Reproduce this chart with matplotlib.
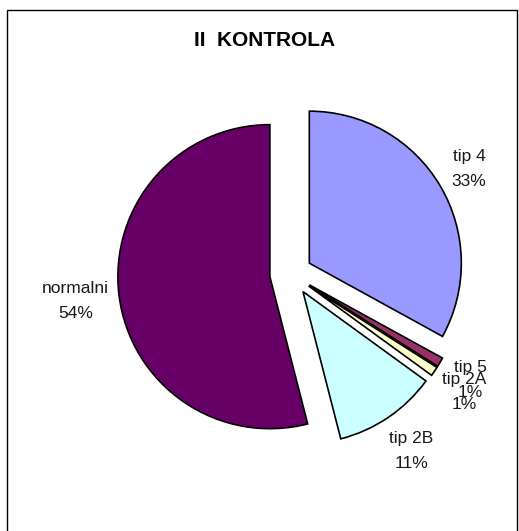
import numpy as np
import matplotlib.pyplot as plt
from matplotlib.patches import Rectangle

plt.rcParams['font.family'] = ['Liberation Sans', 'DejaVu Sans']

# data
categories = ['tip 4', 'tip 5', 'tip 2A', 'tip 2B', 'normalni']
values = [33, 1, 1, 11, 54]
colors = ['#9999FF', '#993366', '#FFFFCC', '#CCFFFF', '#660066']
label_dist = [1.22, 1.23, 1.24, 1.27, 1.29]

W, H = 519, 531
fig = plt.figure(figsize=(W / 100, H / 100), dpi=100)

# pie centre (px from left / top) and radius in px
cx, cy, R, S = 291, 274, 152, 240
ax = fig.add_axes([(cx - S) / W, (H - cy - S) / H, 2 * S / W, 2 * S / H])

explode = [0.14] * len(values)
labels = ['{}\n{}%'.format(c, v) for c, v in zip(categories, values)]
wedges, texts = ax.pie(values, labels=labels, colors=colors,
                       explode=explode, startangle=90,
                       counterclock=False, labeldistance=1.24,
                       wedgeprops=dict(edgecolor='black', linewidth=1.2),
                       textprops=dict(fontsize=12.5, color='#1a1a1a'))
for w, t, d, e in zip(wedges, texts, label_dist, explode):
    th = np.deg2rad((w.theta1 + w.theta2) / 2)
    t.set_position(((e + d) * np.cos(th), (e + d) * np.sin(th)))
    t.set_ha('center')
    t.set_va('center')
    t.set_multialignment('center')
    t.set_linespacing(1.8)

ax.set_xlim(-S / R, S / R)
ax.set_ylim(-S / R, S / R)
ax.set_aspect('equal')
ax.axis('off')

fig.text(265 / W, 1 - 40 / H, 'II  KONTROLA', ha='center', va='center',
         fontsize=15, fontweight='bold')

# chart border
fig.patches.append(Rectangle((7 / W, -0.05), 510 / W, 1.05 - 10 / H,
                             transform=fig.transFigure, fill=False,
                             edgecolor='black', linewidth=1))

fig.savefig('out.png', dpi=100)
